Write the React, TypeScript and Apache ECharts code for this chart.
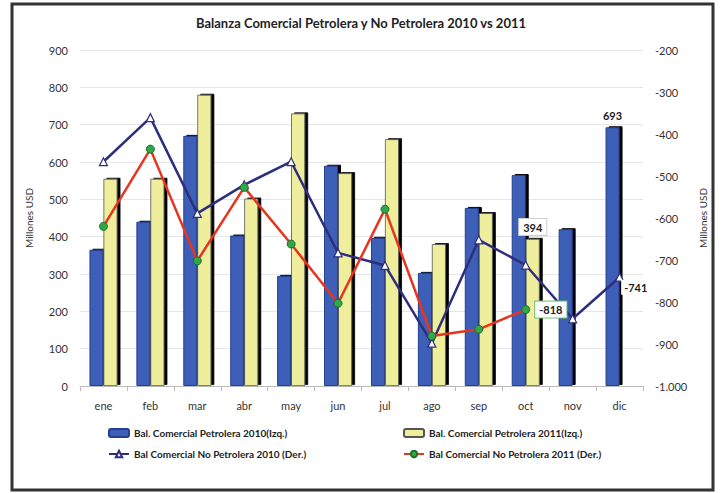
import React, { useEffect, useRef } from "react";
import * as echarts from "echarts";

const months = ["ene", "feb", "mar", "abr", "may", "jun", "jul", "ago", "sep", "oct", "nov", "dic"];
const petrolera2010 = [365, 440, 670, 403, 295, 590, 397, 303, 477, 565, 420, 693];
const petrolera2011 = [555, 555, 780, 502, 730, 570, 661, 380, 463, 394];
const noPetrolera2010 = [-466, -361, -589, -521, -466, -683, -713, -898, -652, -712, -840, -741];
const noPetrolera2011 = [-620, -436, -702, -527, -662, -803, -579, -881, -865, -818];

const names = [
  "Bal. Comercial Petrolera 2010(Izq.)",
  "Bal. Comercial Petrolera 2011(Izq.)",
  "Bal Comercial No Petrolera 2010 (Der.)",
  "Bal Comercial No Petrolera 2011 (Der.)",
];

const FONT = "Lato, 'Open Sans', sans-serif";

export default function App() {
  const ref = useRef<HTMLDivElement>(null);
  useEffect(() => {
    if (!ref.current) return;
    const chart = echarts.init(ref.current, undefined, { renderer: "svg" });
    const barShadow = {
      shadowColor: "#000",
      shadowOffsetX: 3,
      shadowOffsetY: -1,
      shadowBlur: 0,
    };
    const legendBase = {
      itemWidth: 20,
      itemHeight: 8,
      textStyle: { fontFamily: FONT, fontSize: 10, fontWeight: "bold", color: "#222" },
      selectedMode: false,
    };
    const axisText = { color: "#333", fontSize: 11, fontFamily: FONT };
    chart.setOption({
      animation: false,
      backgroundColor: "#fff",
      textStyle: { fontFamily: FONT },
      title: {
        text: "Balanza Comercial Petrolera y No Petrolera 2010 vs 2011",
        left: "center",
        top: 11,
        textStyle: { fontFamily: FONT, fontSize: 13, fontWeight: "bold", color: "#222" },
      },
      graphic: [
        {
          type: "rect",
          shape: { x: 12, y: 4, width: 701, height: 486 },
          style: { fill: "none", stroke: "#333", lineWidth: 3 },
          silent: true,
        },
      ],
      legend: [
        { ...legendBase, data: [names[0]], left: 103, top: 423 },
        { ...legendBase, data: [names[1]], left: 398, top: 423 },
        { ...legendBase, data: [names[2]], left: 103, top: 444 },
        { ...legendBase, data: [names[3]], left: 398, top: 444 },
      ],
      grid: { left: 80, right: 79, top: 50, bottom: 107 },
      xAxis: {
        type: "category",
        data: months,
        axisLine: { lineStyle: { color: "#bbb" } },
        axisTick: { show: true, lineStyle: { color: "#bbb" } },
        axisLabel: { ...axisText, margin: 14 },
      },
      yAxis: [
        {
          type: "value",
          min: 0,
          max: 900,
          interval: 100,
          name: "Millones USD",
          nameLocation: "middle",
          nameGap: 46,
          nameRotate: 90,
          nameTextStyle: { color: "#333", fontSize: 10, fontFamily: FONT },
          axisLine: { show: false },
          axisTick: { show: false },
          axisLabel: { ...axisText, margin: 12 },
          splitLine: { lineStyle: { color: "#e6e6e6" } },
        },
        {
          type: "value",
          min: -1000,
          max: -200,
          interval: 100,
          position: "right",
          name: "Millones USD",
          nameLocation: "middle",
          nameGap: 52,
          nameRotate: 90,
          nameTextStyle: { color: "#333", fontSize: 10, fontFamily: FONT },
          axisLine: { show: false },
          axisTick: { show: false },
          axisLabel: {
            ...axisText,
            margin: 12,
            formatter: (v: number) => (v === -1000 ? "-1.000" : String(v)),
          },
          splitLine: { show: false },
        },
      ],
      series: [
        {
          name: names[0],
          type: "bar",
          barWidth: 14,
          barGap: "0%",
          itemStyle: { color: "#3d5fb8", borderColor: "#23408f", borderWidth: 1, ...barShadow },
          data: petrolera2010.map((v, i) =>
            i === 11
              ? {
                  value: v,
                  label: {
                    show: true,
                    position: "top",
                    distance: 6,
                    fontWeight: "bold",
                    fontSize: 11,
                    color: "#222",
                    fontFamily: FONT,
                  },
                }
              : v
          ),
        },
        {
          name: names[1],
          type: "bar",
          barWidth: 14,
          barGap: "0%",
          itemStyle: { color: "#eeee9c", borderColor: "#555", borderWidth: 0.8, ...barShadow },
          data: petrolera2011.map((v, i) =>
            i === 9
              ? {
                  value: v,
                  label: {
                    show: true,
                    position: "top",
                    distance: 4,
                    fontWeight: "bold",
                    fontSize: 11,
                    color: "#222",
                    fontFamily: FONT,
                    backgroundColor: "#fff",
                    borderColor: "#ccc",
                    borderWidth: 1,
                    padding: [3, 4, 2, 4],
                  },
                }
              : v
          ),
        },
        {
          name: names[2],
          type: "line",
          yAxisIndex: 1,
          symbol: "triangle",
          symbolSize: 8,
          lineStyle: { color: "#2e2e7e", width: 2.5 },
          itemStyle: { color: "#fff", borderColor: "#2e2e7e", borderWidth: 1.2 },
          data: noPetrolera2010.map((v, i) =>
            i === 11
              ? {
                  value: v,
                  label: {
                    show: true,
                    position: "right",
                    distance: 2,
                    offset: [-5, 10],
                    fontWeight: "bold",
                    fontSize: 11,
                    color: "#222",
                    fontFamily: FONT,
                    backgroundColor: "#fff",
                    padding: [2, 3],
                  },
                }
              : v
          ),
        },
        {
          name: names[3],
          type: "line",
          yAxisIndex: 1,
          symbol: "circle",
          symbolSize: 8,
          lineStyle: { color: "#e8341f", width: 2.5 },
          itemStyle: { color: "#2fa84a", borderColor: "#1b6e2c", borderWidth: 1 },
          data: noPetrolera2011.map((v, i) =>
            i === 9
              ? {
                  value: v,
                  label: {
                    show: true,
                    position: "right",
                    distance: 5,
                    fontWeight: "bold",
                    fontSize: 11,
                    color: "#222",
                    fontFamily: FONT,
                    backgroundColor: "#fff",
                    borderColor: "#6cbf6c",
                    borderWidth: 1,
                    padding: [3, 4, 2, 4],
                  },
                }
              : v
          ),
        },
      ],
    });
    return () => chart.dispose();
  }, []);
  return (
    <div
      ref={ref}
      style={{ position: "fixed", left: 0, top: 0, width: 722, height: 493 }}
    />
  );
}
